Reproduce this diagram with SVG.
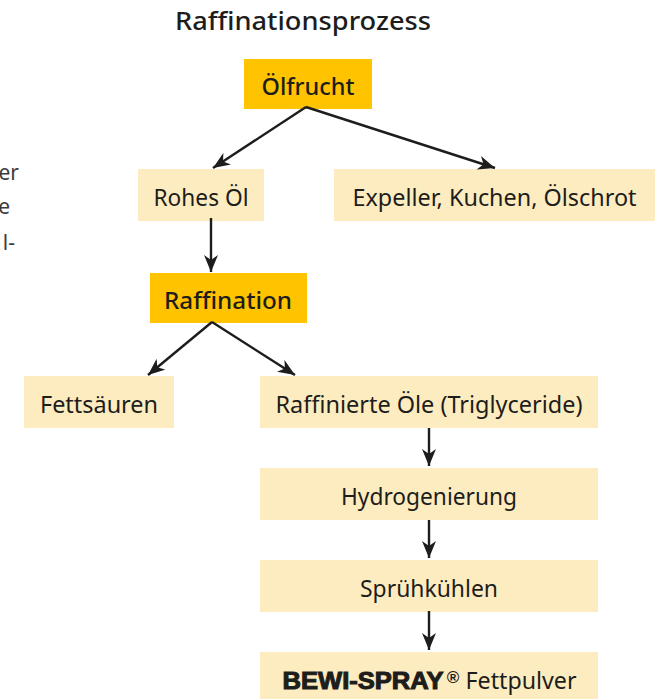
<svg xmlns="http://www.w3.org/2000/svg" width="655" height="699" viewBox="0 0 655 699">
<style>
text{font-family:"Noto Sans","Open Sans",sans-serif;fill:#1d1d1b;font-size:23px;text-anchor:middle}
.d{fill:#ffc300}.l{fill:#fdecc0}
.b{font-weight:500}
.side{font-size:21px;fill:#3c3c3b;text-anchor:end}
.c{fill:none;stroke:#1d1d1b;stroke-width:2.4}
</style>
<defs><marker id="a" markerUnits="userSpaceOnUse" markerWidth="18" markerHeight="14" refX="17" refY="7" orient="auto" viewBox="0 0 18 14"><path d="M0 0L17 7L0 14L5 7Z" fill="#1d1d1b"/></marker></defs>
<rect width="655" height="699" fill="#fff"/>
<text id="title" class="b" x="303" y="30" style="font-size:25px" textLength="256" lengthAdjust="spacingAndGlyphs">Raffinationsprozess</text>
<g id="sidetext"><text class="side" x="19" y="180">er</text><text class="side" x="10" y="214">e</text><text class="side" x="15" y="250">l-</text></g>
<g id="n1"><rect class="d" x="244" y="59" width="128" height="50"/><text class="b" x="308" y="95" textLength="93" lengthAdjust="spacingAndGlyphs">Ölfrucht</text></g>
<g id="n2"><rect class="l" x="138" y="169" width="126" height="52"/><text x="201" y="206" textLength="95" lengthAdjust="spacingAndGlyphs">Rohes Öl</text></g>
<g id="n3"><rect class="l" x="334" y="169" width="321" height="52"/><text x="494.500" y="206" textLength="284" lengthAdjust="spacingAndGlyphs">Expeller, Kuchen, Ölschrot</text></g>
<g id="n4"><rect class="d" x="150" y="273" width="157" height="50"/><text class="b" x="228" y="309" textLength="128" lengthAdjust="spacingAndGlyphs">Raffination</text></g>
<g id="n5"><rect class="l" x="24" y="376" width="150" height="52"/><text x="99" y="413" textLength="118" lengthAdjust="spacingAndGlyphs">Fettsäuren</text></g>
<g id="n6"><rect class="l" x="260" y="376" width="338" height="52"/><text x="429" y="413" textLength="307" lengthAdjust="spacingAndGlyphs">Raffinierte Öle (Triglyceride)</text></g>
<g id="n7"><rect class="l" x="260" y="468" width="338" height="52"/><text x="429" y="505" textLength="176" lengthAdjust="spacingAndGlyphs">Hydrogenierung</text></g>
<g id="n8"><rect class="l" x="260" y="560" width="338" height="52"/><text x="429" y="597" textLength="138" lengthAdjust="spacingAndGlyphs">Sprühkühlen</text></g>
<g id="n9"><rect class="l" x="260" y="652" width="338" height="47"/>
<text x="363" y="688.500" style="font-family:'Liberation Sans',sans-serif;font-weight:700;font-size:23px;stroke:#1d1d1b;stroke-width:1" textLength="161" lengthAdjust="spacingAndGlyphs">BEWI-SPRAY</text>
<text x="453" y="683" style="font-family:'Liberation Sans',sans-serif;font-weight:700;font-size:17px">®</text>
<text x="521" y="689" textLength="111" lengthAdjust="spacingAndGlyphs">Fettpulver</text></g>
<g id="connectors" class="c">
<path d="M306 107L213 168" marker-end="url(#a)"/>
<path d="M306 107L495 168" marker-end="url(#a)"/>
<path d="M211 218V272" marker-end="url(#a)"/>
<path d="M212 322L148 375" marker-end="url(#a)"/>
<path d="M212 322L295 375" marker-end="url(#a)"/>
<path d="M429 428V466" marker-end="url(#a)"/>
<path d="M429 520V558" marker-end="url(#a)"/>
<path d="M429 611V650" marker-end="url(#a)"/>
</g>
</svg>
